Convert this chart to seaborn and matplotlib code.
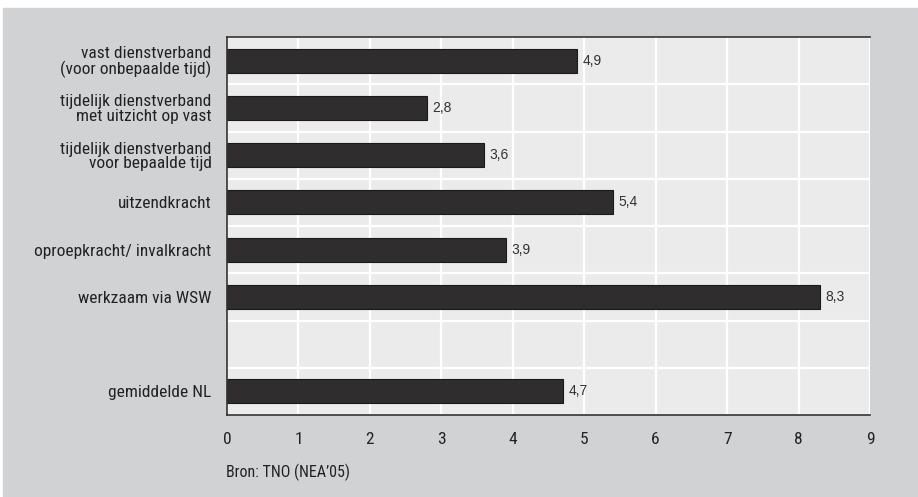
import numpy as np
import pandas as pd
import seaborn as sns
import matplotlib.pyplot as plt
from matplotlib.patches import Rectangle

# data
categories = [
    "vast dienstverband\n(voor onbepaalde tijd)",
    "tijdelijk dienstverband\nmet uitzicht op vast",
    "tijdelijk dienstverband\nvoor bepaalde tijd",
    "uitzendkracht",
    "oproepkracht/ invalkracht",
    "werkzaam via WSW",
    "gemiddelde NL",
]
values = [4.9, 2.8, 3.6, 5.4, 3.9, 8.3, 4.7]
xticks = list(range(0, 10))
source = "Bron: TNO (NEA\u201905)"

# empty slot between WSW and the average
order = categories[:6] + [" "] + categories[6:]
df = pd.DataFrame({"type": categories, "waarde": values})

sns.set_theme(style="white")
plt.rcParams['font.family'] = ['Roboto Condensed', 'DejaVu Sans']

fig = plt.figure(figsize=(9.18, 4.97), dpi=100)
fig.patch.set_facecolor("white")
fig.patches.append(Rectangle((3 / 918, 0), 1, 489 / 497, transform=fig.transFigure,
                             color="#d1d2d4", zorder=-1))
ax = fig.add_axes([227 / 918, 82 / 497, 643 / 918, 378 / 497])

sns.barplot(data=df, y="type", x="waarde", order=order, color="#2f2d2e",
            saturation=1, width=0.51, edgecolor="#1a1a1a", linewidth=0.8,
            errorbar=None, ax=ax)

ax.set_facecolor("#ebebec")
ax.set_axisbelow(True)
ax.set_xlim(0, 9)
ax.set_ylim(len(order) - 0.5, -0.5)
ax.set_xticks(xticks)
ax.set_yticks(np.arange(-0.5, len(order), 1), minor=True)
ax.grid(axis="x", which="major", color="white", lw=1.6)
ax.grid(axis="y", which="minor", color="white", lw=1.6)
ax.set_xlabel("")
ax.set_ylabel("")

ax.tick_params(axis="y", which="major", length=0, pad=11, labelsize=12.5, labelcolor="#222222")
ax.tick_params(axis="y", which="minor", length=7, width=1, color="#333333", direction="out")
ax.tick_params(axis="x", length=7, width=1, color="#333333", direction="out",
               pad=5, labelsize=12.5, labelcolor="#222222")
for lab in ax.get_yticklabels():
    lab.set_linespacing(0.95)

for side in ["top", "left", "bottom"]:
    ax.spines[side].set_color("#333333")
    ax.spines[side].set_linewidth(1.2)
ax.spines["right"].set_visible(False)

for c in ax.containers:
    ax.bar_label(c, labels=[f"{v:.1f}".replace(".", ",") for v in c.datavalues],
                 padding=4, fontsize=10, color="#333333", family=["Liberation Sans", "DejaVu Sans"])

fig.text(226 / 918, 1 - 472 / 497, source, va="center", ha="left", fontsize=11.5, color="#222222")

plt.savefig("out.png", dpi=100)
